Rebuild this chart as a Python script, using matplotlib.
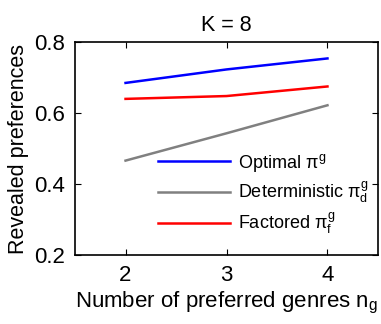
import matplotlib
matplotlib.use("Agg")
import matplotlib.pyplot as plt

n_genres = [2, 3, 4]
optimal = [0.685, 0.723, 0.754]
deterministic = [0.466, 0.543, 0.622]
factored = [0.640, 0.648, 0.675]
xticks = [2, 3, 4]
yticks = [0.2, 0.4, 0.6, 0.8]

plt.rcParams['font.family'] = ['Liberation Sans', 'DejaVu Sans']
plt.rcParams['mathtext.fontset'] = 'custom'
plt.rcParams['mathtext.rm'] = 'Liberation Sans'
plt.rcParams['mathtext.it'] = 'Liberation Sans'
plt.rcParams['mathtext.bf'] = 'Liberation Sans:bold'

fig = plt.figure(figsize=(3.81, 3.24), dpi=100)
ax = fig.add_axes([0.197, 0.213, 0.795, 0.657])

ax.plot(n_genres, optimal, color='#0000ff', lw=1.8, label=r'Optimal $\pi^g$')
ax.plot(n_genres, deterministic, color='#808080', lw=1.8, label=r'Deterministic $\pi^g_d$')
ax.plot(n_genres, factored, color='#ff0000', lw=1.8, label=r'Factored $\pi^g_f$')

ax.set_xlim(1.5, 4.5)
ax.set_ylim(0.2, 0.8)
ax.set_xticks(xticks)
ax.set_yticks(yticks)
ax.set_yticklabels(['0.2', '0.4', '0.6', '0.8'])
ax.tick_params(direction='in', top=True, right=True, labelsize=16, length=4, width=0.8, pad=7)
for s in ax.spines.values():
    s.set_linewidth(1.2)

ax.set_title('K = 8', fontsize=15.5, pad=8)
ax.set_xlabel(r'Number of preferred genres n$_\mathregular{g}$', fontsize=16, labelpad=3)
ax.set_ylabel('Revealed preferences', fontsize=15.5, labelpad=4)

leg = ax.legend(frameon=False, loc='upper left', bbox_to_anchor=(0.25, 0.52),
                fontsize=13, handlelength=4.0, handletextpad=0.45, labelspacing=0.35,
                borderaxespad=0)

fig.savefig('out.png', dpi=100)
